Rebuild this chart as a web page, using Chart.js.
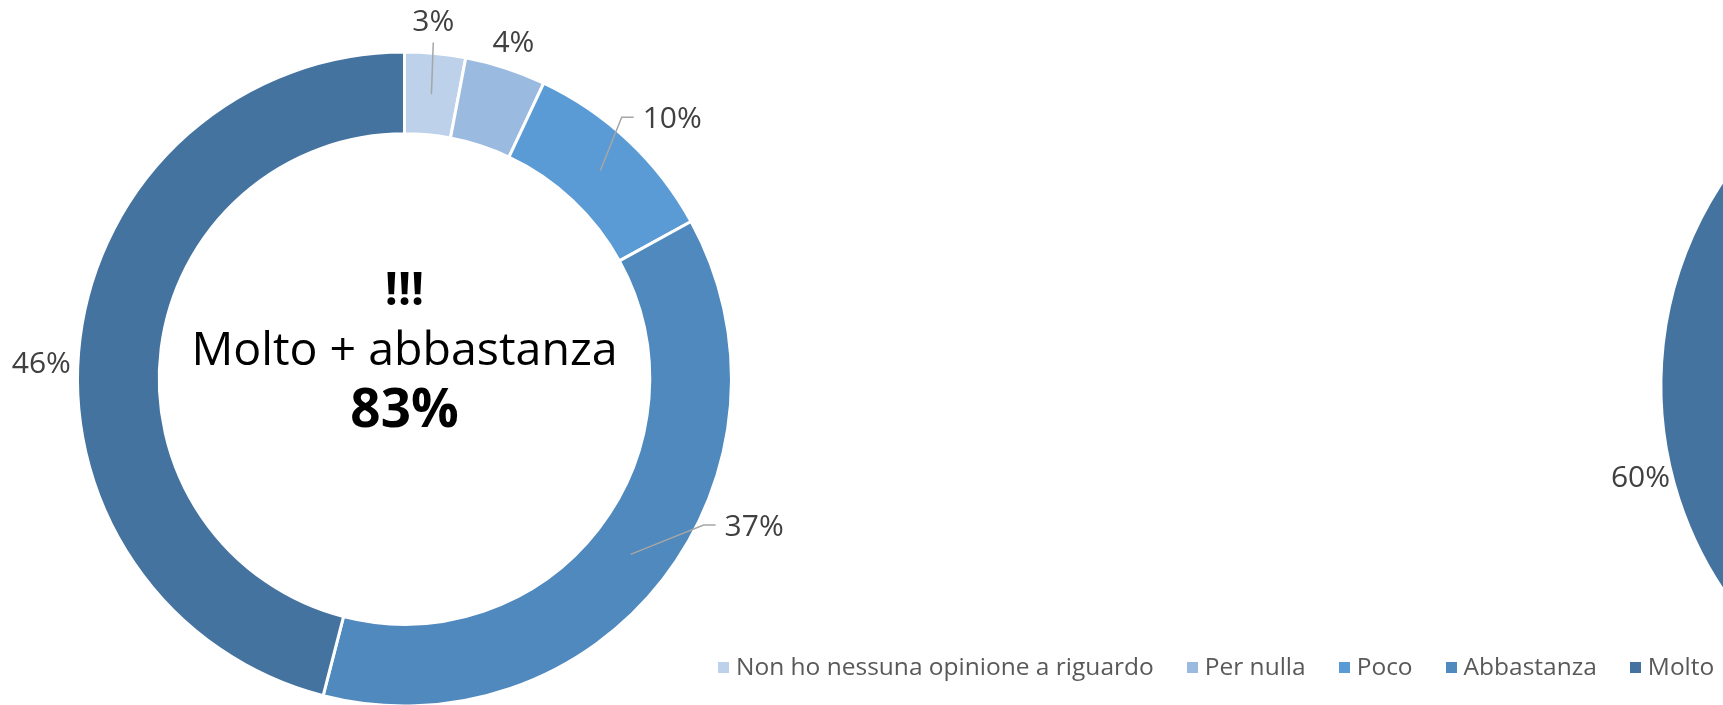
<!DOCTYPE html>
<html>
<head>
<meta charset="utf-8">
<script src="https://cdn.jsdelivr.net/npm/chart.js@4.4.1/dist/chart.umd.min.js"></script>
<style>
  html, body { margin: 0; padding: 0; background: #fff; overflow: hidden; width: 1723px; height: 705px; }
  .wrap { position: absolute; left: 0; top: 0; }
  #leftWrap { width: 1723px; height: 800px; }
  #rightWrap { width: 2500px; height: 800px; }
  #legend { position: absolute; left: 718px; top: 649px; display: flex; align-items: center;
            font-family: 'Open Sans', sans-serif; font-size: 24.5px; color: #595959; white-space: nowrap; }
  #legend .item { display: flex; align-items: center; margin-right: 33px; }
  #legend .box { width: 11px; height: 11px; margin-right: 7px; margin-top: 3px; }
</style>
</head>
<body>
<div id="leftWrap" class="wrap"><canvas id="leftChart"></canvas></div>
<div id="rightWrap" class="wrap"><canvas id="rightChart"></canvas></div>
<div id="legend"></div>
<script>
const categories = ['Non ho nessuna opinione a riguardo', 'Per nulla', 'Poco', 'Abbastanza', 'Molto'];
const leftValues = [3, 4, 10, 37, 46];
// right chart is cut off by the crop, only "Molto" (60%) is visible
const rightValues = [4, 6, 10, 20, 60];
const colors = ['#BDD1EB', '#9BBAE0', '#5B9BD5', '#4F89BD', '#44739F'];
const centerTitle = '!!!';
const centerCaption = 'Molto + abbastanza';

// percentage labels around the ring, with Excel-like leader lines
const pieLabels = {
    id: 'pieLabels',
    afterDatasetsDraw(chart, args, opts) {
        const ctx = chart.ctx;
        const data = chart.data.datasets[0].data;
        const total = data.reduce((a, b) => a + b, 0);
        const meta = chart.getDatasetMeta(0);
        ctx.save();
        ctx.font = opts.font;
        ctx.textAlign = 'center';
        ctx.textBaseline = 'middle';
        meta.data.forEach((arc, i) => {
            const { x, y, startAngle, endAngle, outerRadius, innerRadius } =
                arc.getProps(['x', 'y', 'startAngle', 'endAngle', 'outerRadius', 'innerRadius'], true);
            const mid = (startAngle + endAngle) / 2;
            const shift = opts.shifts[i] || [0, 0];
            const r = outerRadius + opts.offset;
            const lx = x + Math.cos(mid) * r + shift[0];
            const ly = y + Math.sin(mid) * r + shift[1];
            const text = Math.round(data[i] / total * 100) + '%';
            const w = ctx.measureText(text).width;
            const leader = opts.leaders[i];
            if (leader) {
                const rm = (outerRadius + innerRadius) / 2;
                ctx.beginPath();
                ctx.moveTo(x + Math.cos(mid) * rm, y + Math.sin(mid) * rm);
                if (leader === 'bottom') {
                    ctx.lineTo(lx, ly + 22);
                } else {
                    ctx.lineTo(lx - w / 2 - 21, ly);
                    ctx.lineTo(lx - w / 2 - 9, ly);
                }
                ctx.strokeStyle = '#A6A6A6';
                ctx.lineWidth = 1.5;
                ctx.stroke();
            }
            ctx.fillStyle = opts.color;
            ctx.fillText(text, lx, ly + 2);
        });
        ctx.restore();
    }
};

const centerText = {
    id: 'centerText',
    afterDraw(chart, args, opts) {
        const arc = chart.getDatasetMeta(0).data[0];
        const ctx = chart.ctx;
        ctx.save();
        ctx.fillStyle = '#000';
        ctx.textAlign = 'center';
        ctx.textBaseline = 'alphabetic';
        opts.lines.forEach((line) => {
            ctx.font = line.font;
            ctx.fillText(line.text, arc.x, arc.y + line.dy);
        });
        ctx.restore();
    }
};

const sumTop = leftValues[3] + leftValues[4];

const leftChart = new Chart(document.getElementById('leftChart'), {
    type: 'doughnut',
    data: {
        labels: categories,
        datasets: [{
            data: leftValues,
            backgroundColor: colors,
            borderColor: '#ffffff',
            borderWidth: 3,
        }],
    },
    options: {
        responsive: true,
        maintainAspectRatio: false,
        animation: false,
        events: [],
        cutout: '75%',
        layout: { padding: { left: 76, right: 990, top: 50.5, bottom: 92.5 } },
        plugins: {
            legend: { display: false },
            tooltip: { enabled: false },
            pieLabels: {
                font: '30px "Open Sans"',
                color: '#404040',
                offset: 32,
                shifts: [[-5, -1], [-2, 4], [22, 0], [66, -74], [-7, 28]],
                leaders: ['bottom', null, 'left', 'left', null],
            },
            centerText: {
                lines: [
                    { text: centerTitle, font: 'bold 46px "Open Sans"', dy: -74 },
                    { text: centerCaption, font: '46.5px "Open Sans"', dy: -14 },
                    { text: sumTop + '%', font: 'bold 53px "Open Sans"', dy: 48 },
                ],
            },
        },
    },
    plugins: [pieLabels, centerText],
});

const rightChart = new Chart(document.getElementById('rightChart'), {
    type: 'doughnut',
    data: {
        labels: categories,
        datasets: [{
            data: rightValues,
            backgroundColor: colors,
            borderColor: '#ffffff',
            borderWidth: 3,
        }],
    },
    options: {
        responsive: true,
        maintainAspectRatio: false,
        animation: false,
        events: [],
        cutout: '74%',
        layout: { padding: { left: 1659.4, right: 101.4, top: 15.9, bottom: 44.9 } },
        plugins: {
            legend: { display: false },
            tooltip: { enabled: false },
            pieLabels: {
                font: '30px "Open Sans"',
                color: '#404040',
                offset: 32,
                shifts: [[0, 0], [0, 0], [0, 0], [0, 0], [-8, -33]],
                leaders: [null, null, null, null, null],
            },
        },
    },
    plugins: [pieLabels],
});

// html legend from the chart's own legend items
const legendEl = document.getElementById('legend');
leftChart.options.plugins.legend.labels.generateLabels(leftChart).forEach((item) => {
    const div = document.createElement('div');
    div.className = 'item';
    const box = document.createElement('span');
    box.className = 'box';
    box.style.background = item.fillStyle;
    const txt = document.createElement('span');
    txt.textContent = item.text;
    div.appendChild(box);
    div.appendChild(txt);
    legendEl.appendChild(div);
});
</script>
</body>
</html>
